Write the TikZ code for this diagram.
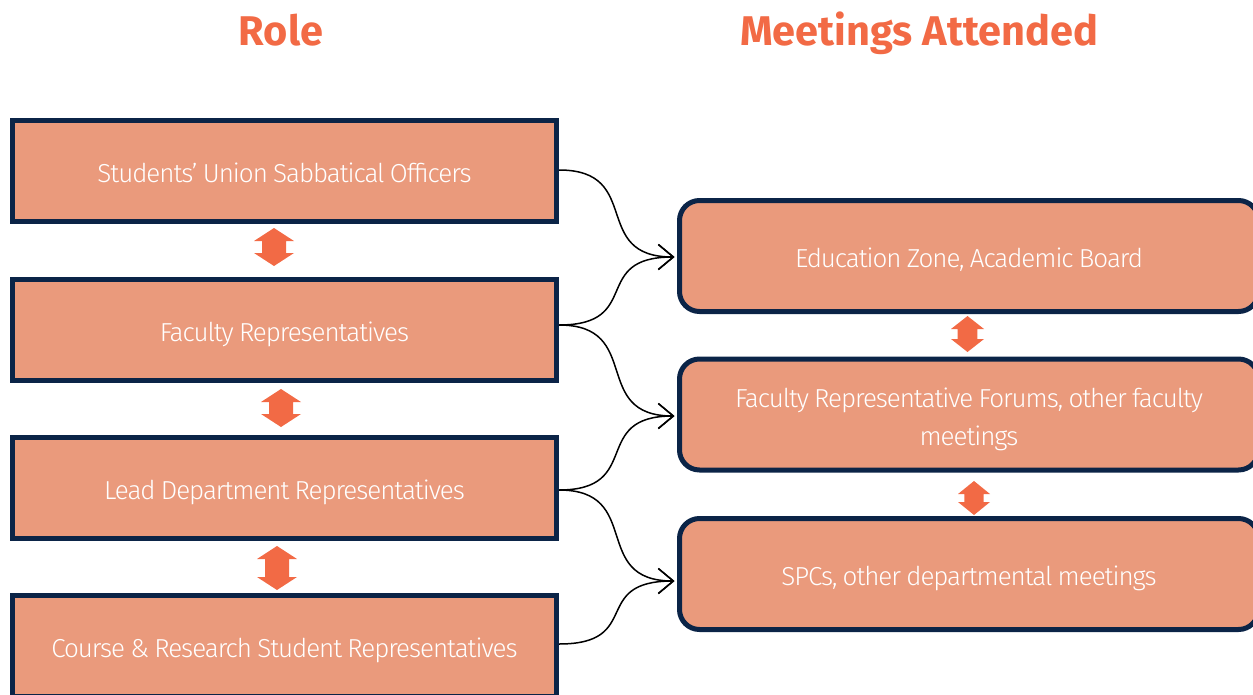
\documentclass[tikz,border=0pt]{standalone}
\usepackage{fontspec}
\setmainfont{Fira Sans}[UprightFont=* Light, BoldFont=* Bold]
\newfontfamily\boxfont{Fira Sans Light}[LetterSpace=-4, WordSpace=0.85]
\usetikzlibrary{arrows.meta}
\definecolor{navy}{HTML}{0B2447}
\definecolor{salmon}{HTML}{EA9A7C}
\definecolor{orangeA}{HTML}{F26A45}
\tikzset{
  basebox/.style={draw=navy, line width=5pt, fill=salmon, inner sep=0pt, text=white, font=\boxfont\fontsize{26}{38}\selectfont, align=center},
  oneline/.style={text height=24pt, text depth=0.6pt},
  rolebox/.style={basebox, oneline, minimum width=544pt, minimum height=101pt},
  meetbox/.style={basebox, rounded corners=20pt, minimum width=579pt, minimum height=111pt},
  title/.style={text=orangeA, font=\bfseries\fontsize{41.5}{44}\selectfont, anchor=base, inner sep=0pt},
  link/.style={black, line width=1.5pt, -{Straight Barb[length=15pt, width=25pt, line width=1.5pt]}},
  dbl/.style={fill=orangeA, draw=none}
}
\newcommand{\dblarrow}[4]{% x, ytop, ybot, half width
  \pgfmathsetmacro{\hA}{13}
  \fill[dbl] (#1,#2) -- (#1+#4,#2+\hA) -- (#1+0.6*#4,#2+\hA) -- (#1+0.6*#4,#3-\hA) -- (#1+#4,#3-\hA) -- (#1,#3)
    -- (#1-#4,#3-\hA) -- (#1-0.6*#4,#3-\hA) -- (#1-0.6*#4,#2+\hA) -- (#1-#4,#2+\hA) -- cycle;
}
\begin{document}
\begin{tikzpicture}[x=1pt,y=-1pt]
\useasboundingbox (0,0) rectangle (1253,694);
\node[title] (t1) at (281,45) {Role};
\node[title] (t2) at (919,45) {Meetings Attended};
\node[rolebox] (L1) at (284.5,171) {Students’ Union Sabbatical Officers};
\node[rolebox] (L2) at (284.5,330) {Faculty Representatives};
\node[rolebox] (L3) at (284.5,488) {Lead Department Representatives};
\node[rolebox] (L4) at (284.5,646) {Course \& Research Student Representatives};
\node[meetbox, oneline] (R1) at (969,256) {Education Zone, Academic Board};
\node[meetbox, text height=30pt, text depth=43.6pt] (R2) at (969,414.5) {\begin{tabular}[t]{@{}c@{}}Faculty Representative Forums, other faculty\\meetings\end{tabular}};
\node[meetbox, oneline] (R3) at (969,574) {SPCs, other departmental meetings};
\dblarrow{274}{228}{266}{20}
\dblarrow{281}{389}{427}{20}
\dblarrow{277}{546}{590}{20}
\dblarrow{967.5}{316}{352}{16.5}
\dblarrow{974}{481}{515}{16}
\coordinate (s1) at ([yshift=1pt]L1.east);
\coordinate (s2) at ([yshift=5pt]L2.east);
\coordinate (s3) at ([yshift=-2pt]L3.east);
\coordinate (s4) at ([yshift=2pt]L4.east);
\coordinate (e1) at ([xshift=-2.5pt,yshift=-1pt]R1.west);
\coordinate (e2) at ([xshift=-2.5pt,yshift=-1.5pt]R2.west);
\coordinate (e3) at ([xshift=-2.5pt,yshift=-7pt]R3.west);
\draw[link] (s1) .. controls +(85,0) and +(-85,0) .. (e1);
\draw[link] (s2) .. controls +(85,0) and +(-85,0) .. (e1);
\draw[link] (s2) .. controls +(85,0) and +(-85,0) .. (e2);
\draw[link] (s3) .. controls +(85,0) and +(-85,0) .. (e2);
\draw[link] (s3) .. controls +(85,0) and +(-85,0) .. (e3);
\draw[link] (s4) .. controls +(85,0) and +(-85,0) .. (e3);
\end{tikzpicture}
\end{document}
